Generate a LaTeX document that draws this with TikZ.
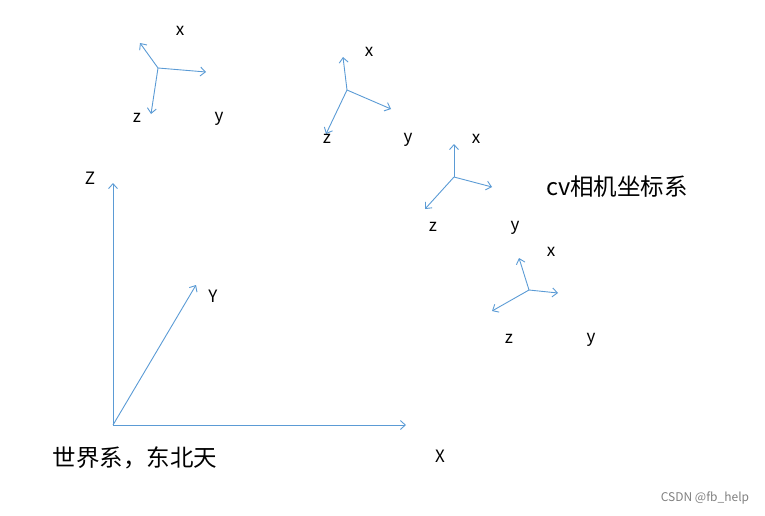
\documentclass[tikz,border=0pt]{standalone}
\usepackage{fontspec}
\setmainfont{Noto Sans CJK SC}
\usetikzlibrary{arrows.meta}
\definecolor{axisblue}{RGB}{91,155,213}
\begin{document}
\begin{tikzpicture}[x=1pt,y=-1pt]
\tikzstyle{every node}+=[inner sep=0pt,font=\fontsize{17}{20}\selectfont]
\tikzstyle{axis}=[axisblue,line width=0.9pt,-{Straight Barb[length=5pt,width=9pt]}]
\tikzstyle{bigtext}=[font=\fontsize{23.5}{28}\selectfont]
\useasboundingbox (0,0) rectangle (765,515);
% world frame
\coordinate (w0) at (113,425);
\coordinate (wz) at (113,183);
\coordinate (wx) at (406,425);
\coordinate (wy) at (196,285);
\draw [axis] (w0) -- (wz);
\draw [axis] (w0) -- (wx);
\draw [axis] (w0) -- (wy);
\node (lZ) at (90,178) {Z};
\node (lY) at (213,296) {Y};
\node (lX) at (440,456) {X};
\node [bigtext] (world) at (135,458) {世界系，东北天};
% camera frame 1
\coordinate (c1) at (158,68);
\coordinate (c1x) at (140,43);
\coordinate (c1y) at (206,72);
\coordinate (c1z) at (151,114);
\draw [axis] (c1) -- (c1x);
\draw [axis] (c1) -- (c1y);
\draw [axis] (c1) -- (c1z);
\node (l1x) at (180,31) {x};
\node (l1z) at (137,118) {z};
\node (l1y) at (219,119) {y};
% camera frame 2
\coordinate (c2) at (347,90);
\coordinate (c2x) at (343,57);
\coordinate (c2y) at (391,109);
\coordinate (c2z) at (326,134);
\draw [axis] (c2) -- (c2x);
\draw [axis] (c2) -- (c2y);
\draw [axis] (c2) -- (c2z);
\node (l2x) at (369,52) {x};
\node (l2z) at (327,139) {z};
\node (l2y) at (408,140) {y};
% camera frame 3
\coordinate (c3) at (454,177);
\coordinate (c3x) at (454,144);
\coordinate (c3y) at (492,187);
\coordinate (c3z) at (425,209);
\draw [axis] (c3) -- (c3x);
\draw [axis] (c3) -- (c3y);
\draw [axis] (c3) -- (c3z);
\node (l3x) at (476,139) {x};
\node (l3z) at (433,227) {z};
\node (l3y) at (515,228) {y};
% camera frame 4
\coordinate (c4) at (529,290);
\coordinate (c4x) at (519,258);
\coordinate (c4y) at (558,293);
\coordinate (c4z) at (492,311);
\draw [axis] (c4) -- (c4x);
\draw [axis] (c4) -- (c4y);
\draw [axis] (c4) -- (c4z);
\node (l4x) at (551,252) {x};
\node (l4z) at (509,339) {z};
\node (l4y) at (591,340) {y};
\node [bigtext] (cam) at (617,187) {cv相机坐标系};
\node [gray,font=\fontsize{12}{14}\selectfont] (mark) at (705,498) {CSDN @fb\_help};
\end{tikzpicture}
\end{document}
